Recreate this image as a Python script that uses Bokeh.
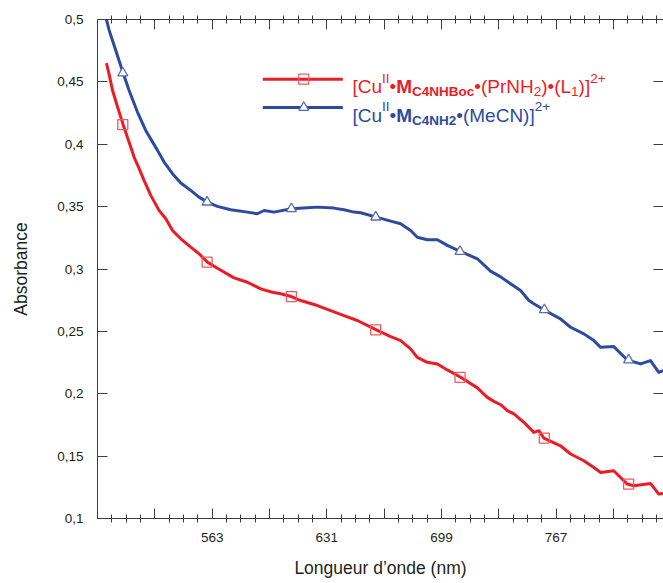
from bokeh.plotting import figure
from bokeh.models import LinearAxis, FixedTicker, Label, Range1d
from bokeh.embed import file_html
from bokeh.resources import INLINE

# ---------------- data ----------------
red_nm = [500.3, 501.9, 503.9, 506.9, 510.2, 513.7, 516.7, 519.7, 522.6, 526.6, 531.5,
          535.5, 539.5, 544.4, 550.3, 555.2, 560.2, 566.1, 576.0, 583.9, 591.8, 598.7,
          603.7, 610.0, 615.5, 625.4, 633.3, 641.2, 649.1, 660.4, 668.9, 674.8, 680.7,
          684.7, 690.6, 696.6, 702.5, 710.4, 720.3, 726.2, 730.1, 734.1, 738.1, 742.0,
          747.9, 753.8, 756.8, 759.7, 769.6, 775.6, 783.5, 789.4, 793.4, 801.2, 809.2,
          813.1, 823.0, 827.9, 830.7]
red_abs = [0.4650, 0.4560, 0.4433, 0.4299, 0.4157, 0.4018, 0.3897, 0.3804, 0.3710, 0.3590,
           0.3470, 0.3403, 0.3309, 0.3242, 0.3175, 0.3122, 0.3055, 0.3006, 0.2929, 0.2894,
           0.2841, 0.2814, 0.2801, 0.2779, 0.2747, 0.2707, 0.2667, 0.2627, 0.2587, 0.2512,
           0.2458, 0.2426, 0.2360, 0.2292, 0.2252, 0.2239, 0.2191, 0.2132, 0.2047, 0.1971,
           0.1939, 0.1912, 0.1864, 0.1838, 0.1771, 0.1690, 0.1704, 0.1645, 0.1583, 0.1517,
           0.1463, 0.1409, 0.1369, 0.1383, 0.1276, 0.1262, 0.1281, 0.1196, 0.1201]

blue_nm = [499.9, 501.9, 505.8, 510.2, 513.7, 518.7, 523.6, 530.6, 534.5, 539.5, 544.4,
           550.3, 555.2, 560.2, 566.1, 574.0, 583.9, 589.8, 593.8, 599.7, 610.0, 619.5,
           625.4, 635.3, 641.2, 647.1, 651.1, 660.4, 668.9, 674.8, 680.7, 684.7, 690.6,
           696.6, 702.5, 710.4, 720.3, 728.1, 734.1, 740.0, 745.9, 750.9, 753.8, 759.7,
           769.6, 775.6, 783.5, 789.4, 793.4, 801.2, 809.2, 817.1, 823.0, 827.9, 830.7]
blue_abs = [0.5020, 0.4914, 0.4754, 0.4571, 0.4433, 0.4258, 0.4111, 0.3951, 0.3857, 0.3764,
            0.3689, 0.3630, 0.3576, 0.3536, 0.3502, 0.3475, 0.3456, 0.3443, 0.3469, 0.3456,
            0.3483, 0.3491, 0.3496, 0.3488, 0.3475, 0.3456, 0.3451, 0.3416, 0.3384, 0.3363,
            0.3309, 0.3255, 0.3234, 0.3234, 0.3189, 0.3140, 0.3082, 0.2983, 0.2937, 0.2881,
            0.2827, 0.2747, 0.2721, 0.2673, 0.2600, 0.2533, 0.2480, 0.2426, 0.2372, 0.2378,
            0.2271, 0.2239, 0.2266, 0.2172, 0.2186]

marker_nm = [510, 560, 610, 660, 710, 760, 810]
red_marker = [0.4157, 0.3055, 0.2779, 0.2512, 0.2132, 0.1645, 0.1276]
blue_marker = [0.4571, 0.3536, 0.3483, 0.3416, 0.3140, 0.2673, 0.2271]

x_major_ticks = [529, 563, 597, 631, 665, 699, 733, 767, 801]
x_tick_labels = ["", "563", "", "631", "", "699", "", "767", ""]
y_ticks = [0.1, 0.15, 0.2, 0.25, 0.3, 0.35, 0.4, 0.45, 0.5]
y_tick_labels = ["0,1", "0,15", "0,2", "0,25", "0,3", "0,35", "0,4", "0,45", "0,5"]

X_START, X_END = 495.0, 830.7
Y_START, Y_END = 0.1, 0.5

# ---------------- styling ----------------
FONT = "Liberation Sans"
RED = "#EC1C24"
BLUE = "#2D4B9E"
RED_MK = "#EF5A60"
BLUE_MK = "#5A6DB2"
AXIS_C = "#3C3C3C"
TXT_C = "#231F20"

FRAME_W, FRAME_H = 566, 499

p = figure(frame_width=FRAME_W, frame_height=FRAME_H,
           x_range=Range1d(X_START, X_END), y_range=Range1d(Y_START, Y_END),
           output_backend="svg", toolbar_location=None,
           min_border_left=97, min_border_right=0, min_border_top=19, min_border_bottom=65)
p.xgrid.grid_line_color = None
p.ygrid.grid_line_color = None
p.outline_line_color = None
p.background_fill_color = "white"
p.border_fill_color = "white"

x_minor = [X_START + 8.5 * k for k in range(1, 40) if k % 4 != 0]
x_over = dict(zip(x_major_ticks, x_tick_labels))
y_over = dict(zip(y_ticks, y_tick_labels))


def hide_labels(ax):
    ax.major_label_text_font_size = "0px"
    ax.major_label_text_color = None
    ax.major_label_standoff = 0


def style_x(ax, show_labels):
    ax.ticker = FixedTicker(ticks=x_major_ticks, minor_ticks=x_minor)
    ax.major_tick_in = 10
    ax.major_tick_out = 0
    ax.minor_tick_in = 4
    ax.minor_tick_out = 4
    ax.axis_line_color = AXIS_C
    ax.major_tick_line_color = AXIS_C
    ax.minor_tick_line_color = AXIS_C
    if show_labels:
        ax.major_label_overrides = x_over
        ax.major_label_text_font = FONT
        ax.major_label_text_font_size = "13.5px"
        ax.major_label_text_color = TXT_C
        ax.major_label_standoff = 10
    else:
        hide_labels(ax)


def style_y(ax, show_labels):
    ax.ticker = FixedTicker(ticks=y_ticks, minor_ticks=[])
    ax.major_tick_in = 10
    ax.major_tick_out = 0
    ax.minor_tick_in = 0
    ax.minor_tick_out = 0
    ax.major_tick_line_color = AXIS_C
    if show_labels:
        ax.axis_line_color = AXIS_C
        ax.major_label_overrides = y_over
        ax.major_label_text_font = FONT
        ax.major_label_text_font_size = "13.5px"
        ax.major_label_text_color = TXT_C
        ax.major_label_standoff = 14
    else:
        ax.axis_line_color = None
        hide_labels(ax)


bottom = p.xaxis[0]
style_x(bottom, True)
bottom.axis_label = "Longueur d\u2019onde (nm)"
bottom.axis_label_text_font = FONT
bottom.axis_label_text_font_size = "17.5px"
bottom.axis_label_text_font_style = "normal"
bottom.axis_label_text_color = TXT_C
bottom.axis_label_standoff = 13

left = p.yaxis[0]
style_y(left, True)
left.axis_label = "Absorbance"
left.axis_label_text_font = FONT
left.axis_label_text_font_size = "17.5px"
left.axis_label_text_font_style = "normal"
left.axis_label_text_color = TXT_C
left.axis_label_standoff = 23

top = LinearAxis()
style_x(top, False)
p.add_layout(top, "above")

right = LinearAxis()
style_y(right, False)
p.add_layout(right, "right")

# ---------------- curves ----------------
p.line(red_nm, red_abs, line_color=RED, line_width=3, line_join="round")
p.line(blue_nm, blue_abs, line_color=BLUE, line_width=3, line_join="round")
p.scatter(marker_nm, red_marker, marker="square", size=10, fill_color=None,
          line_color=RED_MK, line_width=1.3)
p.scatter(marker_nm, blue_marker, marker="triangle", size=10, fill_color="white",
          line_color=BLUE_MK, line_width=1.3)

# ---------------- legend (drawn by hand for sub/superscripts) ----------------
NM_PER_PX = (X_END - X_START) / FRAME_W
A_PER_PX = (Y_END - Y_START) / FRAME_H


def fx(px):
    return X_START + px * NM_PER_PX


def fy(py):
    return Y_END - py * A_PER_PX


# Arial / Liberation Sans advance widths (per 1000 em)
W_REG = {"[": 278, "]": 278, "(": 333, ")": 333, "C": 722, "u": 556, "I": 278, "\u2022": 350,
         "P": 667, "r": 333, "N": 722, "H": 722, "L": 556, "1": 556, "2": 556, "+": 584,
         "M": 833, "e": 556}
W_BOLD = {"M": 833, "C": 722, "4": 556, "N": 722, "H": 722, "B": 722, "o": 611, "c": 556, "2": 556}

MAIN_FS, SMALL_FS = 19.0, 13.5
DY = {"main": -7.5, "sub": -12.5, "sup": 1.0}


def text_width(s, bold, fs):
    table = W_BOLD if bold else W_REG
    return sum(table.get(ch, 556) for ch in s) / 1000.0 * fs


legend_entries = [
    (RED, RED_MK, "square", 59.7,
     [("[Cu", "main", False), ("II", "sup", False), ("\u2022", "main", False),
      ("M", "main", True), ("C4NHBoc", "sub", True), ("\u2022(PrNH", "main", False),
      ("2", "sub", False), (")\u2022(L", "main", False), ("1", "sub", False),
      (")]", "main", False), ("2+", "sup", False)]),
    (BLUE, BLUE_MK, "triangle", 88.0,
     [("[Cu", "main", False), ("II", "sup", False), ("\u2022", "main", False),
      ("M", "main", True), ("C4NH2", "sub", True), ("\u2022(MeCN)]", "main", False),
      ("2+", "sup", False)]),
]

LEG_X0 = 165.3
LEG_LEN = 80.0
LEG_MK = 41.0
LEG_TXT = 89.7

for line_c, mk_c, mk, ly, parts in legend_entries:
    yv = fy(ly)
    p.line([fx(LEG_X0), fx(LEG_X0 + LEG_LEN)], [yv, yv], line_color=line_c, line_width=3)
    p.scatter([fx(LEG_X0 + LEG_MK)], [yv], marker=mk, size=10,
              fill_color=(None if mk == "square" else "white"),
              line_color=mk_c, line_width=1.3)
    xo = 0.0
    for s, kind, bold in parts:
        fs = MAIN_FS if kind == "main" else SMALL_FS
        p.add_layout(Label(x=fx(LEG_X0 + LEG_TXT), y=yv, x_units="data", y_units="data",
                           x_offset=xo, y_offset=DY[kind], text=s,
                           text_font=FONT, text_font_size=f"{fs}px",
                           text_font_style=("bold" if bold else "normal"),
                           text_color=line_c, text_baseline="alphabetic",
                           text_align="left"))
        xo += text_width(s, bold, fs)

open("out.html", "w").write(file_html(p, INLINE))
